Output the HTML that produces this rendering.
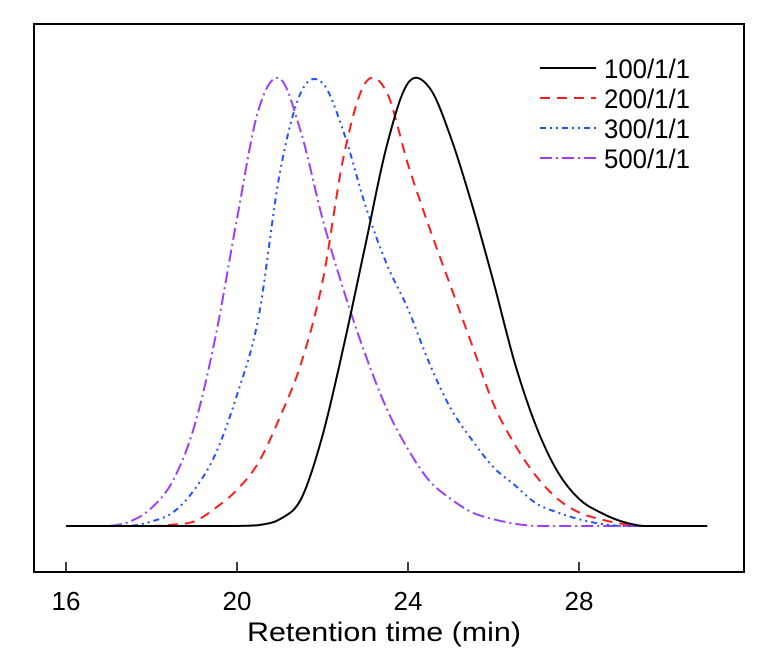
<!DOCTYPE html>
<html><head><meta charset="utf-8"><style>
html,body{margin:0;padding:0;background:#fff;}
svg{display:block;font-family:"Liberation Sans",sans-serif;}
</style></head><body>
<svg id="chart" width="768" height="663" viewBox="0 0 768 663">
<rect x="34" y="24" width="710" height="548" fill="none" stroke="#000" stroke-width="2"/>
<g id="ticks"></g>
<g id="series"></g>
<g id="legend"></g>
<text x="384" y="641" font-size="27" text-anchor="middle" textLength="274" lengthAdjust="spacingAndGlyphs">Retention time (min)</text>
</svg>
<script>
const times = [16,16.5,17,17.5,18,18.5,19,19.5,20,20.5,21,21.5,22,22.5,23,23.5,24,24.5,25,25.5,26,26.5,27,27.5,28,28.5,29,29.5,30,30.5,31];
const s100 = [0,0,0,0,0,0,0,0,0,0.002,0.015,0.06,0.2,0.4,0.62,0.84,0.98,0.97,0.86,0.71,0.54,0.36,0.22,0.12,0.06,0.03,0.01,0,0,0,0];
const s200 = [0,0,0,0,0,0.003,0.01,0.04,0.08,0.14,0.24,0.36,0.54,0.82,0.98,0.96,0.8,0.66,0.53,0.4,0.27,0.18,0.11,0.06,0.03,0.015,0.005,0,0,0,0];
const s300 = [0,0,0,0,0.01,0.03,0.08,0.16,0.29,0.46,0.78,0.96,0.98,0.87,0.71,0.58,0.48,0.36,0.26,0.19,0.13,0.09,0.05,0.03,0.015,0.005,0,0,0,0,0];
const s500 = [0,0,0,0.01,0.04,0.1,0.22,0.42,0.68,0.92,0.99,0.87,0.68,0.52,0.38,0.26,0.17,0.1,0.06,0.03,0.015,0.005,0,0,0,0,0,0,0,0,0];
const tickValues = [16,20,24,28];
const seriesNames = ["100/1/1","200/1/1","300/1/1","500/1/1"];

const NS="http://www.w3.org/2000/svg";
function xs(t){return 66+(t-16)*42.75;}
function ys(v){return 526-v*452;}
const tg=document.getElementById('ticks');
tickValues.forEach(t=>{
  const l=document.createElementNS(NS,'line');
  l.setAttribute('x1',xs(t));l.setAttribute('x2',xs(t));l.setAttribute('y1',562);l.setAttribute('y2',572);
  l.setAttribute('stroke','#000');l.setAttribute('stroke-width','1.5');
  
  
  tg.appendChild(l);
  const tx=document.createElementNS(NS,'text');
  tx.setAttribute('x',xs(t));tx.setAttribute('y',610);tx.setAttribute('font-size','26');tx.setAttribute('text-anchor','middle');
  tx.textContent=t;
  
  
  tg.appendChild(tx);
});
function pathFor(vals){
  const p=times.map((t,i)=>[xs(t),ys(vals[i])]);
  const base=ys(0);
  let d='M'+p[0][0]+','+p[0][1];
  for(let i=0;i<p.length-1;i++){
    const p0=p[Math.max(0,i-1)],p1=p[i],p2=p[i+1],p3=p[Math.min(p.length-1,i+2)];
    const c1x=p1[0]+(p2[0]-p0[0])/6,c1y=Math.min(base,p1[1]+(p2[1]-p0[1])/6);
    const c2x=p2[0]-(p3[0]-p1[0])/6,c2y=Math.min(base,p2[1]-(p3[1]-p1[1])/6);
    d+=' C'+c1x+','+c1y+' '+c2x+','+c2y+' '+p2[0]+','+p2[1];
  }
  return d;
}
const styles=[
  {data:s100,color:'#000',dash:'',name:'series-100'},
  {data:s200,color:'#ff1a1a',dash:'10,7',name:'series-200'},
  {data:s300,color:'#1f4fff',dash:'6,4,2,4,2,4',name:'series-300'},
  {data:s500,color:'#9b3cff',dash:'12,4,2,4',name:'series-500'}
];
const sg=document.getElementById('series'),lg=document.getElementById('legend');
styles.slice().reverse().forEach(s=>{
  const p=document.createElementNS(NS,'path');
  p.setAttribute('d',pathFor(s.data));p.setAttribute('fill','none');p.setAttribute('stroke',s.color);
  p.setAttribute('stroke-width','2');if(s.dash)p.setAttribute('stroke-dasharray',s.dash);
  
  
  sg.appendChild(p);
});
styles.forEach((s,i)=>{
  const y=68+i*30;
  const l=document.createElementNS(NS,'line');
  l.setAttribute('x1',540);l.setAttribute('x2',596);l.setAttribute('y1',y);l.setAttribute('y2',y);
  l.setAttribute('stroke',s.color);l.setAttribute('stroke-width','2');if(s.dash)l.setAttribute('stroke-dasharray',s.dash);
  
  
  lg.appendChild(l);
  const t=document.createElementNS(NS,'text');
  t.setAttribute('x',604);t.setAttribute('y',y+10);t.setAttribute('font-size','27');
  t.setAttribute('textLength','86');t.setAttribute('lengthAdjust','spacingAndGlyphs');
  t.textContent=seriesNames[i];
  
  
  lg.appendChild(t);
});
</script>
</body></html>
